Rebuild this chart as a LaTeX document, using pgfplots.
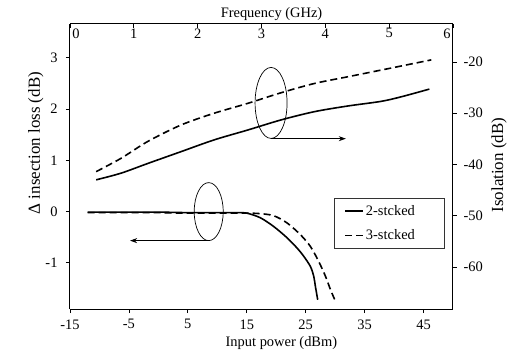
\documentclass[border=0pt]{standalone}
\usepackage{fontspec}
\setmainfont{Liberation Serif}
\usepackage{pgfplots}
\pgfplotsset{compat=1.18}
\usetikzlibrary{arrows.meta}

\begin{document}
\begin{tikzpicture}[font=\fontsize{14.5}{17}\selectfont]
\path[use as bounding box] (-70bp,-53bp) rectangle (444bp,309bp);
% ---------- insertion loss vs input power (bottom / left)
\begin{axis}[
  scale only axis, width=383bp, height=285bp,
  at={(0,0)}, anchor=south west,
  xmin=-15, xmax=50, ymin=-1.90, ymax=3.66,
  axis x line*=bottom, axis y line*=left,
  axis line style={-, line width=1bp},
  tick align=outside, major tick length=4bp,
  tick style={line width=0.8bp, black},
  xtick={-15,-5,...,45}, ytick={-1,0,1,2,3},
  /pgf/number format/assume math mode=true,
  yticklabel style={xshift=-5bp},
  xticklabel style={yshift=-3bp},
  xlabel={Input power (dBm)},
  xlabel style={at={(axis description cs:0.552,-0.119)}, anchor=center},
  ylabel={Δ insection loss (dB)},
  ylabel style={at={(axis description cs:-0.089,0.582)}, anchor=center, font=\fontsize{17}{20}\selectfont},
  legend style={at={(axis description cs:0.977,0.389)}, anchor=north east,
    draw=black!80, line width=0.5bp, inner xsep=10bp, inner ysep=5bp,
    row sep=9bp, font=\fontsize{14.5}{17}\selectfont},
  legend cell align=left,
  legend image code/.code={\draw[#1] (0bp,0bp) -- (18bp,0bp);},
]
\addplot[black, line width=1.6bp, smooth] coordinates {
(-12,-0.01) (-5,-0.01) (0,-0.01) (5,-0.02) (10,-0.02) (13.5,-0.02)
(15.03,-0.03) (17.3,-0.12) (19.56,-0.29) (21.83,-0.51) (23.53,-0.71)
(24.66,-0.87) (25.8,-1.07) (26.36,-1.26) (26.65,-1.46) (27.04,-1.72)};
\addlegendentry{\makebox[66bp][l]{2-stcked}}
\addplot[black, line width=1.6bp, dash pattern=on 7bp off 4bp, smooth] coordinates {
(-12,-0.02) (-5,-0.02) (0,-0.02) (5,-0.03) (10,-0.03) (15,-0.03)
(17.3,-0.04) (19.56,-0.08) (21.83,-0.22) (24.1,-0.45) (25.8,-0.68)
(27.2,-0.97) (28.35,-1.26) (29.2,-1.52) (30.05,-1.75)};
\addlegendentry{\makebox[66bp][l]{3-stcked}}
\draw[line width=0.7bp] (axis cs:8.54,0) ellipse [x radius=14.5bp, y radius=29bp];
\draw[line width=0.7bp, -{Stealth[length=7bp,width=5bp]}] (axis cs:8.54,-0.566) -- (axis cs:-4.8,-0.566);
\end{axis}
% ---------- isolation vs frequency (top / right)
\begin{axis}[
  scale only axis, width=383bp, height=285bp,
  at={(0,0)}, anchor=south west,
  xmin=0, xmax=6, ymin=-68.2, ymax=-12.6,
  axis x line*=top, axis y line*=right,
  axis line style={-, line width=1bp},
  tick align=outside, major tick length=4bp,
  tick style={line width=0.8bp, black},
  xtick style={yshift=-4bp},
  xtick={1,...,5}, ytick={-60,-50,...,-20},
  extra x ticks={0,6},
  extra x tick labels={\makebox[0pt][l]{\,0},\makebox[0pt][r]{6\,}},
  /pgf/number format/assume math mode=true,
  every x tick label/.append style={anchor=north, yshift=-5bp},
  yticklabel style={xshift=3bp},
  xlabel={Frequency (GHz)},
  xlabel style={at={(axis description cs:0.5,1)}, anchor=south, xshift=10bp},
  ylabel={Isolation (dB)},
  ylabel style={at={(axis description cs:1.120,0.505)}, anchor=center, font=\fontsize{17}{20}\selectfont},
]
\addplot[black, line width=1.6bp, smooth] coordinates {
(0.41,-43.0) (0.80,-41.7) (1.22,-39.8) (1.74,-37.5) (2.26,-35.2) (2.78,-33.3)
(3.31,-31.3) (3.83,-29.7) (4.35,-28.6) (4.87,-27.7) (5.19,-26.8) (5.63,-25.3)};
\addplot[black, line width=1.6bp, dash pattern=on 7bp off 4bp, smooth] coordinates {
(0.41,-41.4) (0.80,-38.8) (1.22,-35.5) (1.74,-32.3) (2.26,-30.0) (2.78,-28.1)
(3.31,-26.0) (3.83,-24.2) (4.35,-22.9) (4.87,-21.6) (5.66,-19.6)};
\draw[line width=0.7bp] (axis cs:3.15,-28) ellipse [x radius=16bp, y radius=35.5bp];
\draw[line width=0.7bp, -{Stealth[length=7bp,width=5bp]}] (axis cs:3.15,-34.97) -- (axis cs:4.32,-34.97);
\end{axis}
\end{tikzpicture}
\end{document}
